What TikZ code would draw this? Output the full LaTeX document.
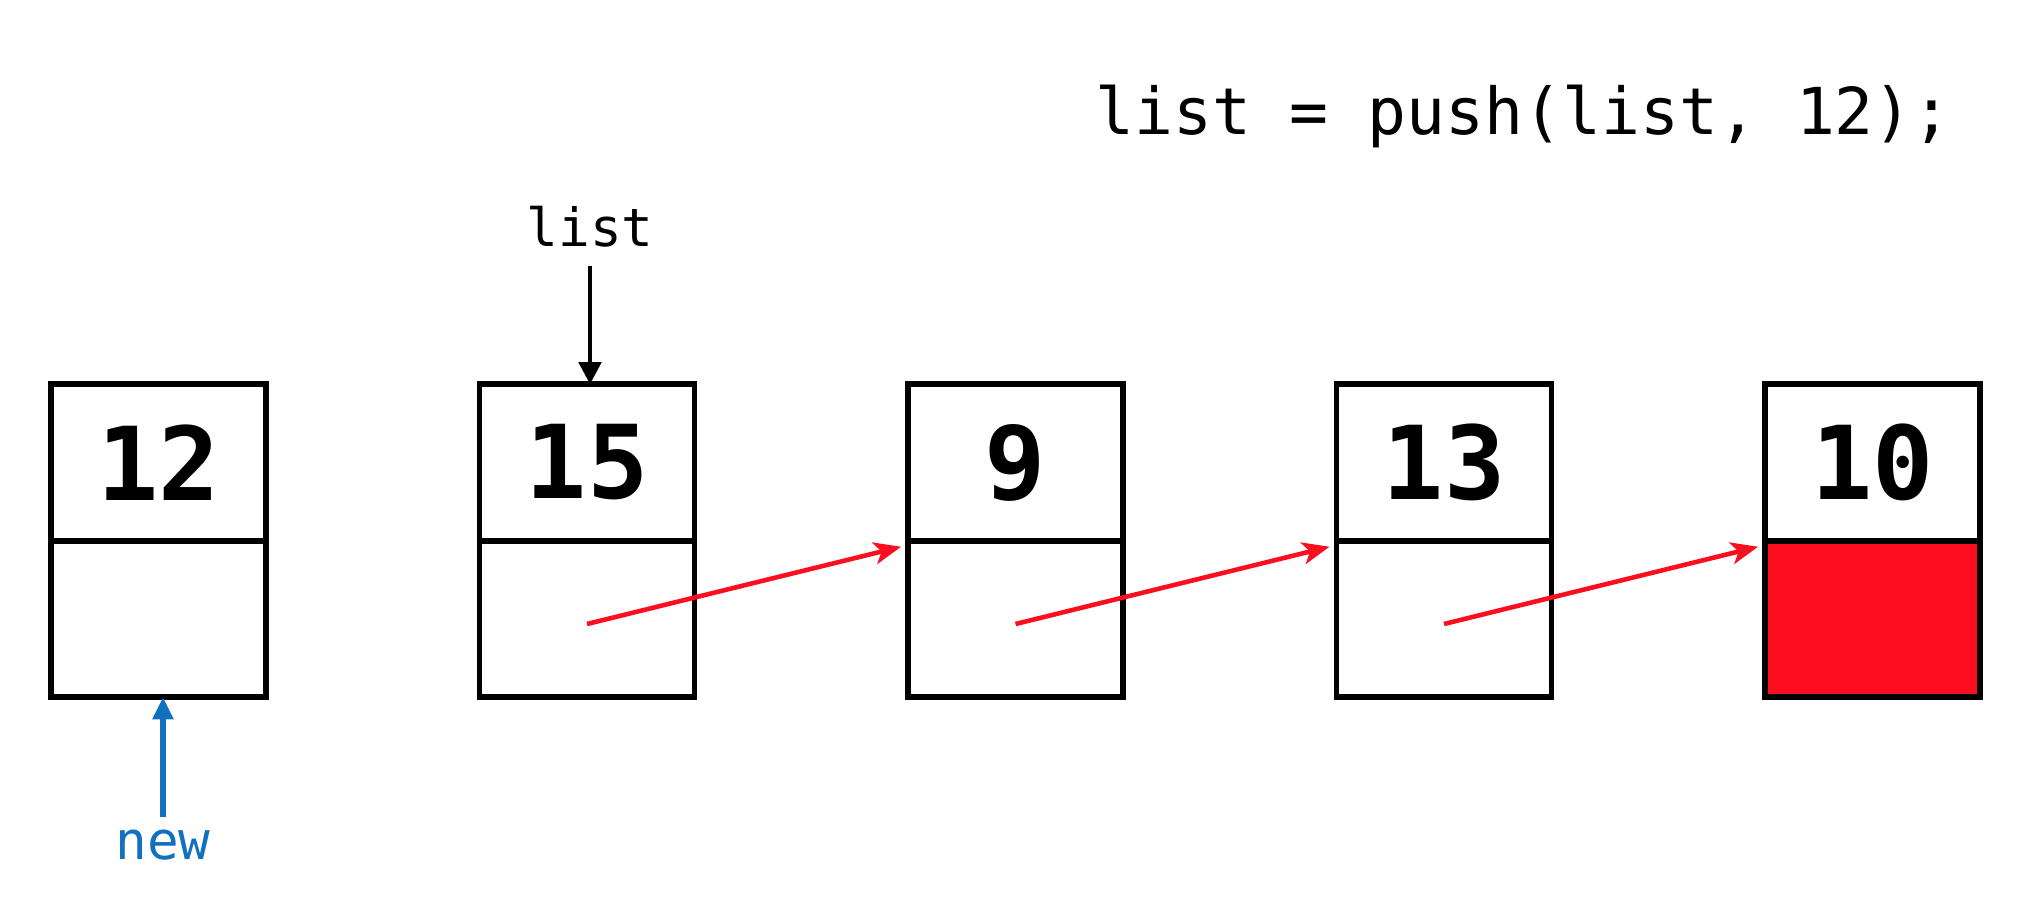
\documentclass[tikz,border=0pt]{standalone}
\usepackage{fontspec}
\setmonofont{DejaVu Sans Mono}
\usepackage{tikz}
\usetikzlibrary{arrows.meta, positioning, calc}

\definecolor{ptrred}{RGB}{252,14,30}
\definecolor{newblue}{RGB}{17,113,190}

\begin{document}
\begin{tikzpicture}[
        cell/.style={draw, line width=1.6pt, minimum width=2.15cm, minimum height=1.565cm, outer sep=0pt, inner sep=0pt, font=\ttfamily\bfseries\fontsize{29}{29}\selectfont},
        link/.style={-{Stealth[length=0.27cm, width=0.22cm, inset=0.07cm]}, ptrred, line width=1.3pt},
        lbl/.style={font=\ttfamily\fontsize{15}{15}\selectfont}
    ]
        \useasboundingbox (0,0) rectangle (20.42,-9.10);

        % Code en haut a droite
        \node[font=\ttfamily\fontsize{18.4}{18.4}\selectfont, anchor=base] (code) at (15.235,-1.35) {list = push(list, 12);};

        % Maillons: valeur + pointeur
        \foreach \v/\c [count=\i] in {12/white,15/white,9/white,13/white,10/ptrred} {
            \node[cell] (val\i) at (\i*4.285-2.7, -4.625) {\v};
            \node[cell, fill=\c, below=0pt of val\i] (ptr\i) {};
        }

        % Pointeurs suivants
        \foreach \i [evaluate=\i as \j using int(\i+1)] in {2,3,4} {
            \draw[link] ($(ptr\i.center)+(0,-0.05)$) -- ($(ptr\j.north west)+(-0.07,-0.06)$);
        }

        % Tete de liste
        \node[lbl, above=1.25cm of val2, xshift=0.03cm] (lst) {list};
        \draw[-{Triangle[length=0.22cm, width=0.22cm]}, line width=1.3pt, shorten <=0.07cm] (lst.south) -- (lst.south |- val2.north);

        % Nouveau maillon
        \node[lbl, newblue, below=1.2cm of ptr1, xshift=0.045cm] (new) {new};
        \draw[-{Triangle[length=0.22cm, width=0.2cm]}, newblue, line width=1.5pt] (new) -- (new |- ptr1.south);

    \end{tikzpicture}
\end{document}
